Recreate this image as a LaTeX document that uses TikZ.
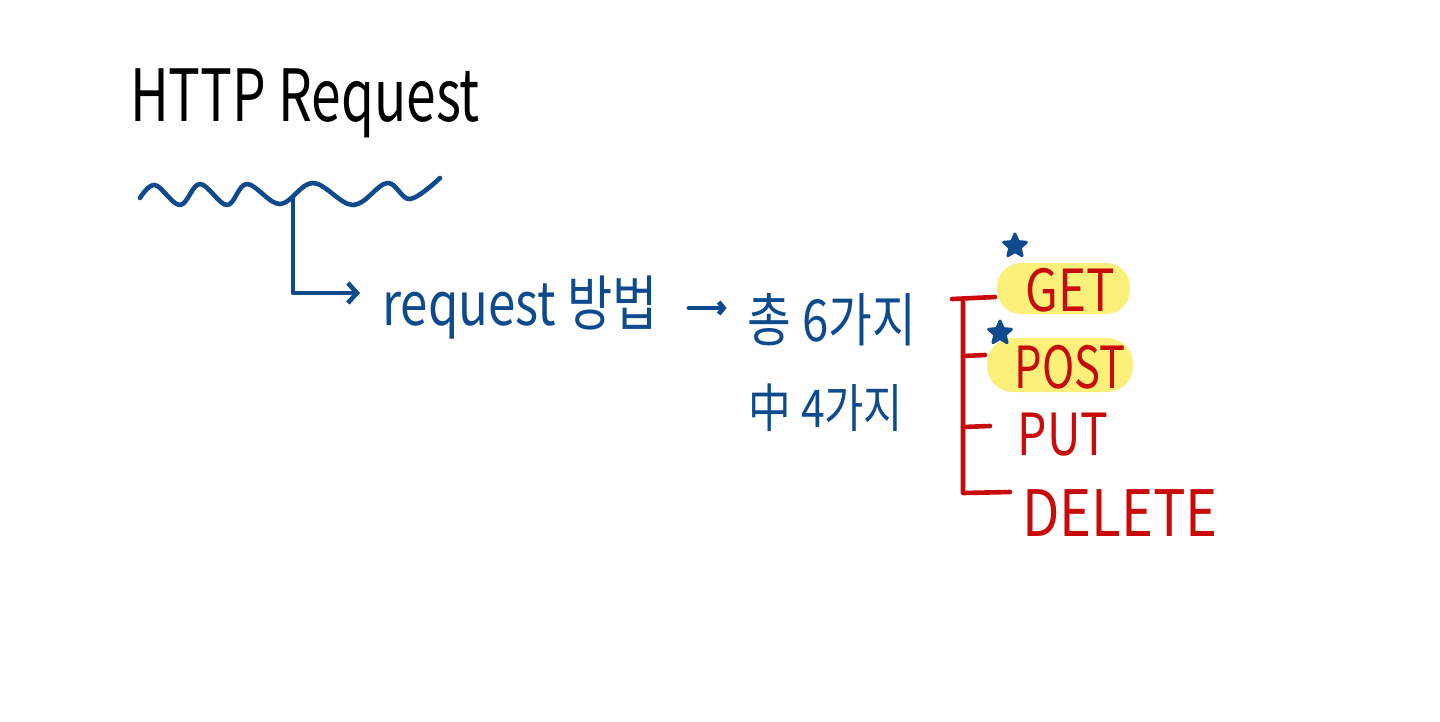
\documentclass[tikz,border=0pt]{standalone}
\usepackage{fontspec}
\usepackage{xcolor}
\usetikzlibrary{arrows.meta,shapes.geometric}
\newfontfamily\hand{Noto Sans CJK KR}
\definecolor{penblue}{HTML}{0E4A8C}
\definecolor{penred}{HTML}{C80A0A}
\definecolor{hilite}{HTML}{FAF07A}

\begin{document}
\begin{tikzpicture}[x=1pt, y=-1pt, line cap=round, line join=round,
	bluepen/.style={draw=penblue, line width=4.6pt},
	redpen/.style={draw=penred, line width=4.6pt},
	word/.style={inner sep=0pt, font=\hand, xscale=#1, transform shape},
	word/.default=0.8,
	doodlestar/.style={star, star points=5, star point ratio=2.2, draw=penblue,
		fill=penblue, line width=3pt, minimum size=24pt, inner sep=0pt}]
	
	\useasboundingbox (0,0) rectangle (1440,721);
	
	% Title
	\node[word=0.74, font=\hand\fontsize{72}{80}\selectfont] (title) at (305,103) {HTTP Request};
	
	% Wavy underline and the branch off it
	\draw[bluepen] plot[smooth, tension=0.6] coordinates {(140,198) (155,185) (180,205) (200,184)
		(227,205) (247,184) (280,204) (313,183) (353,205) (387,183) (410,199) (440,178)};
	\coordinate (branch) at (293,199);
	\coordinate (tip) at (360,293);
	\draw[bluepen, -{Straight Barb[length=9pt, width=20pt]}] (branch) |- (tip);
	
	% Blue notes
	\node[word=0.82, penblue, font=\hand\fontsize{60}{66}\selectfont] (method) at (520,308) {request 방법};
	\node[word=0.82, penblue, font=\hand\fontsize{58}{64}\selectfont] (total) at (832,320) {총 6가지};
	\node[word=0.82, penblue, font=\hand\fontsize{52}{58}\selectfont] (among) at (826,408) {中 4가지};
	\draw[bluepen, -{Straight Barb[length=5pt, width=12pt]}, shorten <=31pt, shorten >=21pt]
		(method.east |- 0,308) -- (total.west |- 0,308);
	
	% Highlights behind the starred methods
	\fill[hilite, rounded corners=24pt] (997,263) rectangle (1130,314);
	\fill[hilite, rounded corners=26pt] (987,338) rectangle (1133,392);
	\node[doodlestar] (star1) at (1015,246) {};
	\node[doodlestar] (star2) at (1000,333) {};
	
	% Red bracket
	\draw[redpen] (952,299) -- (995,297);
	\draw[redpen] (963,299) -- (963,493) -- (1010,492);
	\draw[redpen] (963,356) -- (985,355);
	\draw[redpen] (963,427) -- (990,426);
	
	% Methods
	\node[word=0.82, penred, font=\hand\fontsize{58}{64}\selectfont] (get) at (1070,290) {GET};
	\node[word=0.75, penred, font=\hand\fontsize{58}{64}\selectfont] (post) at (1070,367) {POST};
	\node[word=0.8, penred, font=\hand\fontsize{58}{64}\selectfont] (put) at (1063,435) {PUT};
	\node[word=0.85, penred, font=\hand\fontsize{64}{70}\selectfont] (delete) at (1120,513) {DELETE};
	
\end{tikzpicture}
\end{document}
